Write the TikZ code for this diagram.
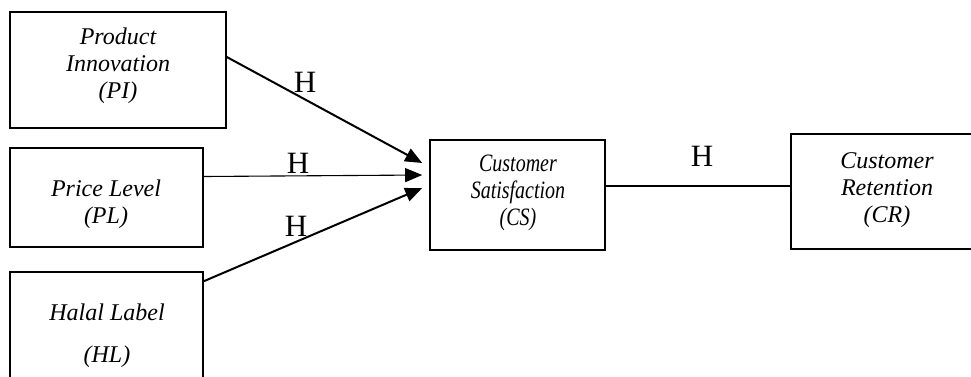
\documentclass[tikz,border=0pt]{standalone}
\usepackage{fontspec}
\setmainfont{Liberation Serif}
\newfontfamily\condfont[FakeStretch=0.8]{Liberation Serif}
\usetikzlibrary{arrows.meta}
\tikzset{
  box/.style={draw, line width=1.6pt, rectangle, inner sep=0pt},
  txt/.style={align=center, inner sep=0pt, font=\fontsize{24}{27}\selectfont\itshape},
  ctxt/.style={align=center, inner sep=0pt, font=\condfont\fontsize{25}{27}\selectfont\itshape},
  hlab/.style={inner sep=0pt, font=\fontsize{31}{32}\selectfont},
  arr/.style={line width=2pt, -{Triangle[length=17pt,width=14pt]}},
  thinarr/.style={line width=1.1pt, -{Triangle[length=17pt,width=14pt]}},
  link/.style={line width=1.6pt}
}
\begin{document}
\begin{tikzpicture}[x=1pt,y=-1pt]
\useasboundingbox (0,0) rectangle (971,376);
\clip (0,0) rectangle (971,376);
% boxes
\node[box, minimum width=216pt, minimum height=116pt] (pi) at (118,70) {};
\node[box, minimum width=193pt, minimum height=99pt] (pl) at (106.5,197.5) {};
\node[box, minimum width=193pt, minimum height=130pt] (hl) at (106.5,337) {};
\node[box, minimum width=175pt, minimum height=110pt] (cs) at (517.5,195) {};
\node[box, minimum width=196pt, minimum height=115pt] (cr) at (889,191.5) {};
% texts
\node[txt] (pit) at (118,66) {Product\\Innovation\\(PI)};
\node[txt] (plt) at (106,204) {Price Level\\(PL)};
\node[txt, font=\fontsize{24}{42}\selectfont\itshape] (hlt) at (107,336) {Halal Label\\(HL)};
\node[ctxt] (cst) at (518,193) {Customer\\Satisfaction\\(CS)};
\node[txt] (crt) at (887,190) {Customer\\Retention\\(CR)};
% connectors
\coordinate (s1) at ([yshift=13pt]pi.east);
\coordinate (s2) at ([yshift=21pt]pl.east);
\coordinate (s3) at ([yshift=-10pt]hl.north east);
\coordinate (t1) at ([xshift=-7pt,yshift=32pt]cs.west);
\coordinate (t2) at ([xshift=-7pt,yshift=20pt]cs.west);
\coordinate (t3) at ([xshift=-7pt,yshift=7pt]cs.west);
\draw[arr] (s1) -- (t1);
\draw[thinarr] (s2) -- (t2);
\draw[arr] (s3) -- (t3);
\draw[link] ([yshift=9pt]cs.east) -- ([yshift=9pt]cs.east -| cr.west);
% labels
\node[hlab] (h1) at (305,82) {H};
\node[hlab] (h2) at (298,163) {H};
\node[hlab] (h3) at (296,226) {H};
\node[hlab] (h4) at (702,156) {H};
\end{tikzpicture}
\end{document}
